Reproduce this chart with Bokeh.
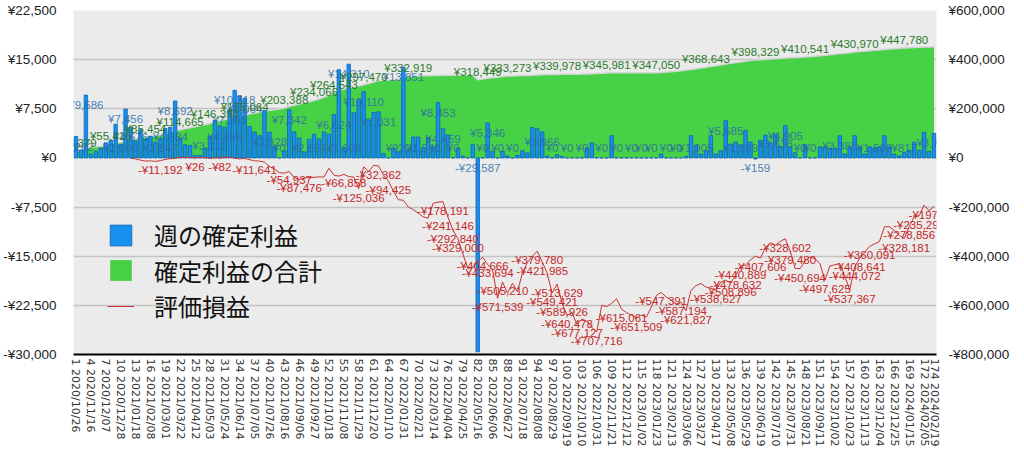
import math
from bokeh.plotting import figure
from bokeh.models import (Range1d, LinearAxis, FixedTicker, ColumnDataSource,
                          Legend, LegendItem, Label)
from bokeh.embed import file_html
from bokeh.resources import INLINE

NaN = float("nan")

weeks = list(range(1, 175))

# 週の確定利益 (weekly realized profit, left axis)
weekly = [
    3262, 1200, 9586, 600, 1000, 1500, 2300, 2700, 5150, 2006,
    7456, 4676, 2600, 4300, 2900, 3300, 2400, 2847, 4500, 4684,
    8692, 3000, 2000, 1900, 400, 400, 1500, 3312, 5700, 4900,
    4696, 7361, 10318, 9500, 9064, 4800, 3960, 3400, 7240, 3928,
    1730, 0, 1100, 7342, 3970, 3060, 900, 2854, 3600, 2900,
    3970, 3640, 6624, 13470, 1609, 14310, 6890, 8880, 10110, 5800,
    6940, 7031, 670, 0, 1480, 920, 13851, 1200, 3200, 3200,
    1548, 3100, 1700, 8453, 4459, 3500, 0, 1500, 300, 0,
    2000, -29587, 0, 5346, 1000, 0, 1000, 300, 0, 400,
    1100, 770, 4640, 4440, 3966, 300, 0, 500, 250, 0,
    0, 0, 0, 1500, 2300, 0, 0, 0, 3400, 0,
    0, 0, 0, 0, 0, 0, 0, 0, 600, 0,
    0, 0, 0, 250, 3400, 1905, 600, 1100, 3400, 600,
    1100, 5685, 2100, 2400, 1989, 4200, 2400, -159, 2700, 3470,
    2300, 3638, 1700, 4905, 1700, 800, 0, 2000, 0, 0,
    1700, 1700, 1500, 1500, 3385, 600, 1700, 3400, 1700, 600,
    1700, 1509, 1700, 3400, 1700, 600, 300, 817, 1200, 2400,
    1200, 3900, 1000, 3748,
]

# 確定利益の合計 (cumulative realized profit, right axis)
cumulative = [
    26379, 28230, 42930, 43850, 45390, 47700, 51250, 55416, 60570, 62580,
    70040, 74720, 77320, 82550, 85454, 88750, 91150, 94000, 98500, 103180,
    111870, 114665, 119000, 123000, 127000, 131000, 135000, 140000, 146390, 151000,
    156000, 161500, 166500, 171000, 175064, 179000, 182500, 186000, 190000, 193500,
    196500, 199500, 203388, 209000, 214000, 219000, 223500, 228500, 234066, 240000,
    247000, 255000, 264543, 276000, 279000, 286000, 289000, 292500, 297470, 303000,
    309000, 315000, 316000, 316500, 318000, 319000, 330000, 332919, 333500, 334000,
    334300, 334600, 335000, 335500, 336000, 336200, 336200, 336400, 336400, 336600,
    336800, 318449, 321000, 324000, 326500, 328500, 331000, 333273, 333900, 334300,
    335000, 335500, 336500, 337500, 338800, 339300, 339600, 339978, 340200, 340400,
    340700, 341000, 341500, 342000, 343000, 343800, 344500, 345981, 346200, 346300,
    346400, 346500, 346600, 346700, 346800, 346850, 346950, 347050, 348000, 349500,
    351000, 353000, 355000, 357500, 360000, 362500, 365500, 368643, 372000, 375000,
    378000, 382000, 385000, 388000, 390500, 393500, 396000, 398329, 399800, 401000,
    402300, 403800, 405000, 407000, 408000, 409000, 409500, 410541, 412000, 414000,
    416000, 418000, 420000, 422000, 424500, 426500, 428500, 430970, 432800, 434500,
    436000, 437800, 439500, 441500, 443000, 444500, 446000, 447780, 448500, 449300,
    450000, 451000, 451500, 452300,
]

# 評価損益 (unrealized P/L, right axis)
unrealized = [
    NaN, NaN, NaN, NaN, NaN, NaN, NaN, NaN, NaN, NaN,
    NaN, -1000, -4000, -9000, -13000, -12000, -14000, -11192, -6000, -3000,
    -1000, 2000, 3000, 1000, 26, 2000, 1000, -2000, 1000, -82,
    2000, 3000, -1000, -4000, -2000, -7000, -11641, -13000, -17000, -35000,
    -45000, -60000, -62000, -54937, -80000, -87476, -82000, -80000, -79000, -77000,
    -78000, -42000, -70000, -74000, -66858, -76000, -78000, -125036, -36000, -55000,
    -30000, -32362, -70000, -94425, -135000, -170000, -172000, -200000, -210000, -225000,
    -240000, -245000, -185000, -180000, -178191, -241146, -292840, -329000, -390000, -450000,
    -445000, -420000, -404666, -433694, -455000, -571539, -505210, -550000, -510000, -545000,
    -470000, -425000, -400000, -379780, -421985, -470000, -549421, -513629, -589926, -640478,
    -630000, -677127, -655000, -665000, -690000, -707716, -600000, -605000, -592000, -573000,
    -615061, -630000, -640000, -651509, -640000, -648000, -607000, -560000, -547391, -566000,
    -578000, -595000, -587194, -621827, -539000, -520000, -511000, -525000, -530000, -538627,
    -505000, -498000, -508896, -478632, -440889, -435000, -415000, -400000, -407606, -365000,
    -345000, -355000, -340000, -328602, -379480, -450000, -450694, -420000, -403000, -410000,
    -430000, -497625, -440000, -435000, -430000, -480000, -537367, -444072, -408641, -385000,
    -360091, -350000, -340000, -280000, -280000, -295000, -315000, -328181, -278856, -240000,
    -235298, -192000, -215000, -197117,
]

# x tick labels (week number + week start date)
x_ticks = [1, 4, 7, 10, 13, 16, 19, 22, 25, 28, 31, 34, 37, 40, 43, 46, 49, 52, 55, 58,
           61, 64, 67, 70, 73, 76, 79, 82, 85, 88, 91, 94, 97, 100, 103, 106, 109, 112,
           115, 118, 121, 124, 127, 130, 133, 136, 139, 142, 145, 148, 151, 154, 157,
           160, 163, 166, 169, 172, 174]
x_dates = ["2020/10/26", "2020/11/16", "2020/12/07", "2020/12/28", "2021/01/18",
           "2021/02/08", "2021/03/01", "2021/03/22", "2021/04/12", "2021/05/03",
           "2021/05/24", "2021/06/14", "2021/07/05", "2021/07/26", "2021/08/16",
           "2021/09/06", "2021/09/27", "2021/10/18", "2021/11/08", "2021/11/29",
           "2021/12/20", "2022/01/10", "2022/01/31", "2022/02/21", "2022/03/14",
           "2022/04/04", "2022/04/25", "2022/05/16", "2022/06/06", "2022/06/27",
           "2022/07/18", "2022/08/08", "2022/08/29", "2022/09/19", "2022/10/10",
           "2022/10/31", "2022/11/21", "2022/12/12", "2023/01/02", "2023/01/23",
           "2023/02/13", "2023/03/06", "2023/03/27", "2023/04/17", "2023/05/08",
           "2023/05/29", "2023/06/19", "2023/07/10", "2023/07/31", "2023/08/21",
           "2023/09/11", "2023/10/02", "2023/10/23", "2023/11/13", "2023/12/04",
           "2023/12/25", "2024/01/15", "2024/02/05", "2024/02/19"]

left_ticks = [-30000, -22500, -15000, -7500, 0, 7500, 15000, 22500]
left_tick_labels = ["-¥30,000", "-¥22,500", "-¥15,000", "-¥7,500", "¥0",
                    "¥7,500", "¥15,000", "¥22,500"]
right_ticks = [-800000, -600000, -400000, -200000, 0, 200000, 400000, 600000]
right_tick_labels = ["-¥800,000", "-¥600,000", "-¥400,000", "-¥200,000", "¥0",
                     "¥200,000", "¥400,000", "¥600,000"]

legend_labels = ["週の確定利益", "確定利益の合計", "評価損益"]

# weeks whose data labels are visible
blue_label_weeks = [1, 3, 10, 11, 12, 18, 20, 21, 28, 31, 32, 33, 35, 40, 42, 44, 48,
                    53, 55, 56, 59, 62, 66, 67, 71, 74, 75, 77, 82, 83, 84, 86, 89,
                    95, 97, 100, 103, 107, 110, 113, 115, 117, 120, 122, 126, 132,
                    135, 138, 142, 144, 147, 149, 155, 162, 168, 174]
green_label_weeks = [1, 8, 15, 22, 29, 35, 43, 49, 53, 59, 68, 82, 88, 98, 108, 118,
                     128, 138, 148, 158, 168]
red_label_weeks = [18, 25, 30, 37, 44, 46, 55, 58, 62, 64, 75, 76, 77, 78, 83, 84, 86,
                   87, 94, 95, 97, 98, 99, 100, 102, 106, 111, 114, 119, 123, 124, 130,
                   133, 134, 135, 139, 144, 145, 147, 152, 157, 158, 159, 161, 168,
                   169, 171, 174]

BLUE = "#1890ef"
BLUE_EDGE = "#0f62b8"
GREEN = "#47d147"
RED = "#cc3030"
LABEL_FONT = "Liberation Sans"


def yen(v):
    v = int(round(v))
    return ("-" if v < 0 else "") + "¥" + f"{abs(v):,}"


W, H = 1012, 450
TOP, BOTTOM = 10, 96
p = figure(width=W, height=H, x_range=Range1d(0.5, 174.5),
           y_range=Range1d(left_ticks[0], left_ticks[-1]),
           output_backend="svg", toolbar_location=None,
           min_border_left=70, min_border_right=10, min_border_top=TOP,
           min_border_bottom=BOTTOM, background_fill_color="#ebebeb",
           border_fill_color="white", outline_line_color=None)
p.extra_y_ranges = {"r": Range1d(right_ticks[0], right_ticks[-1])}

# left axis
p.yaxis.ticker = FixedTicker(ticks=left_ticks)
p.yaxis.major_label_overrides = {t: s for t, s in zip(left_ticks, left_tick_labels)}
p.yaxis.axis_line_color = None
p.yaxis.major_tick_line_color = None
p.yaxis.minor_tick_line_color = None
p.yaxis.major_tick_out = 0
p.yaxis.major_tick_in = 0
p.yaxis.major_label_standoff = 17
p.yaxis.major_label_text_font = LABEL_FONT
p.yaxis.major_label_text_font_size = "13.5px"
p.yaxis.major_label_text_color = "#222222"

# right axis
ra = LinearAxis(y_range_name="r", ticker=FixedTicker(ticks=right_ticks),
                major_label_overrides={t: s for t, s in zip(right_ticks, right_tick_labels)},
                axis_line_color=None, major_tick_line_color=None,
                minor_tick_line_color=None, major_tick_out=0, major_tick_in=0,
                major_label_standoff=12, major_label_text_font=LABEL_FONT,
                major_label_text_font_size="13.5px", major_label_text_color="#222222")
p.add_layout(ra, "right")

# x axis
p.xaxis.ticker = FixedTicker(ticks=x_ticks)
p.xaxis.major_label_overrides = {t: f"{t} {d}" for t, d in zip(x_ticks, x_dates)}
p.xaxis.major_label_orientation = -math.pi / 2
p.xaxis.axis_line_color = "black"
p.xaxis.axis_line_width = 2
p.xaxis.major_tick_line_color = None
p.xaxis.minor_tick_line_color = None
p.xaxis.major_tick_out = 0
p.xaxis.major_tick_in = 0
p.xaxis.major_label_standoff = 4
p.xaxis.major_label_text_font = "DejaVu Sans"
p.xaxis.major_label_text_font_size = "11px"
p.xaxis.major_label_text_color = "#333333"

p.xgrid.grid_line_color = None
p.ygrid.ticker = FixedTicker(ticks=left_ticks[1:])
p.ygrid.grid_line_color = "#c4c4c4"
p.ygrid.grid_line_width = 1.5

src = ColumnDataSource(dict(x=weeks, w=weekly, c=cumulative, u=unrealized))

area = p.varea(x="x", y1=0, y2="c", source=src, y_range_name="r", fill_color=GREEN)
p.line(x="x", y="c", source=src, y_range_name="r", line_color="#d4d4d4", line_width=1.5)
bars = p.vbar(x="x", top="w", bottom=0, width=0.7, source=src, fill_color=BLUE,
              line_color=BLUE_EDGE, line_width=0.8)
red = p.line(x="x", y="u", source=src, y_range_name="r", line_color=RED, line_width=1)

# data labels
px_per_left = (left_ticks[-1] - left_ticks[0]) / (H - TOP - BOTTOM)
min_anchor = 20 * px_per_left


def add_label(x, y, text, dy, color, rng="default", alpha=1.0):
    p.add_layout(Label(x=x, y=y, text=text, y_range_name=rng, y_offset=dy,
                       text_align="center", text_baseline="middle",
                       text_font=LABEL_FONT, text_font_size="11.5px",
                       text_color=color, text_alpha=alpha))


for wk in blue_label_weeks:
    v = weekly[wk - 1]
    anchor = 0 if v < 0 else max(v, min_anchor)
    add_label(wk, anchor, yen(v), -10, "#2a6aa8", alpha=0.85)

for wk in green_label_weeks:
    v = cumulative[wk - 1]
    add_label(wk, v, yen(v), 8, "#2a7a2a", rng="r")

for wk in red_label_weeks:
    v = unrealized[wk - 1]
    add_label(wk, v, yen(v), -9, "#c42828", rng="r")

# legend: one single-item legend per row so the row pitch can follow the reference
for label, rend, loc_y in zip(legend_labels, [bars, area, red], [102, 66.5, 31]):
    lg = Legend(items=[LegendItem(label=label, renderers=[rend])],
                location=(34, loc_y), glyph_width=27, glyph_height=26,
                label_standoff=20, spacing=0, padding=0, margin=0,
                label_text_font="Noto Sans CJK JP", label_text_font_size="24px",
                label_text_color="#111111", background_fill_alpha=0,
                border_line_color=None)
    p.add_layout(lg)

open("out.html", "w").write(file_html(p, INLINE))
